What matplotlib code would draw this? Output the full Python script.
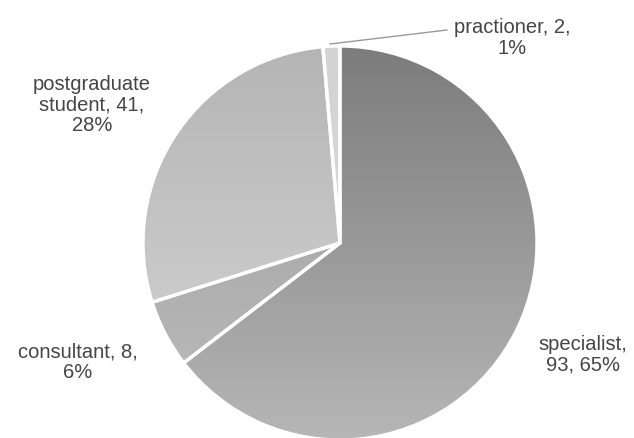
import numpy as np
import matplotlib
matplotlib.use("Agg")
import matplotlib.pyplot as plt

# survey respondents by role
roles = ["specialist", "consultant", "postgraduate\nstudent", "practioner"]
counts = [93, 8, 41, 2]
percents = [65, 6, 28, 1]

# shading per slice: colour at top and bottom of the pie
top_cols = ["#7c7c7c", "#9c9c9c", "#b5b5b5", "#d3d3d3"]
bot_cols = ["#b6b6b6", "#bdbdbd", "#d6d6d6", "#dcdcdc"]

plt.rcParams["font.family"] = ["Liberation Sans", "DejaVu Sans"]

fig = plt.figure(figsize=(6.34, 4.39), dpi=100)
ax = fig.add_axes([0, 0, 1, 1])

cx, cy, r = 340, 439 - 244, 197
wedges, _ = ax.pie(counts, startangle=90, counterclock=False, radius=r,
                   center=(cx, cy), frame=True,
                   wedgeprops=dict(edgecolor="white", linewidth=2.4))


def hex_rgb(h):
    return np.array([int(h[i:i + 2], 16) / 255 for i in (1, 3, 5)])


# vertical gradient fill clipped to each wedge
t = np.linspace(0, 1, 256)[:, None]
for w, c0, c1 in zip(wedges, top_cols, bot_cols):
    a, b = hex_rgb(c0), hex_rgb(c1)
    grad = (a[None, None, :] * (1 - t[..., None]) + b[None, None, :] * t[..., None])
    grad = np.repeat(grad, 2, axis=1)
    w.set_facecolor("none")
    im = ax.imshow(grad, extent=(cx - r, cx + r, cy - r, cy + r),
                   origin="upper", aspect="auto", zorder=1)
    im.set_clip_path(w)
    w.set_zorder(2)

ax.set_xlim(0, 634)
ax.set_ylim(0, 439)
ax.set_aspect("equal")
ax.axis("off")

txt = dict(fontsize=14.5, color="#454545", ha="center", va="center",
           linespacing=1.12)
label_pos = [(583, 439 - 355), (78, 439 - 362), (92, 439 - 105), (512, 439 - 38)]
for name, n, p, (x, y) in zip(roles, counts, percents, label_pos):
    if name == "specialist":
        s = f"{name},\n{n}, {p}%"
    else:
        s = f"{name}, {n},\n{p}%"
    ax.text(x, y, s, **txt)

# leader line for the small slice
ax.plot([447, 330], [439 - 31, 439 - 45], color="#9a9a9a", lw=1, zorder=3)

fig.savefig("out.png", dpi=100)
